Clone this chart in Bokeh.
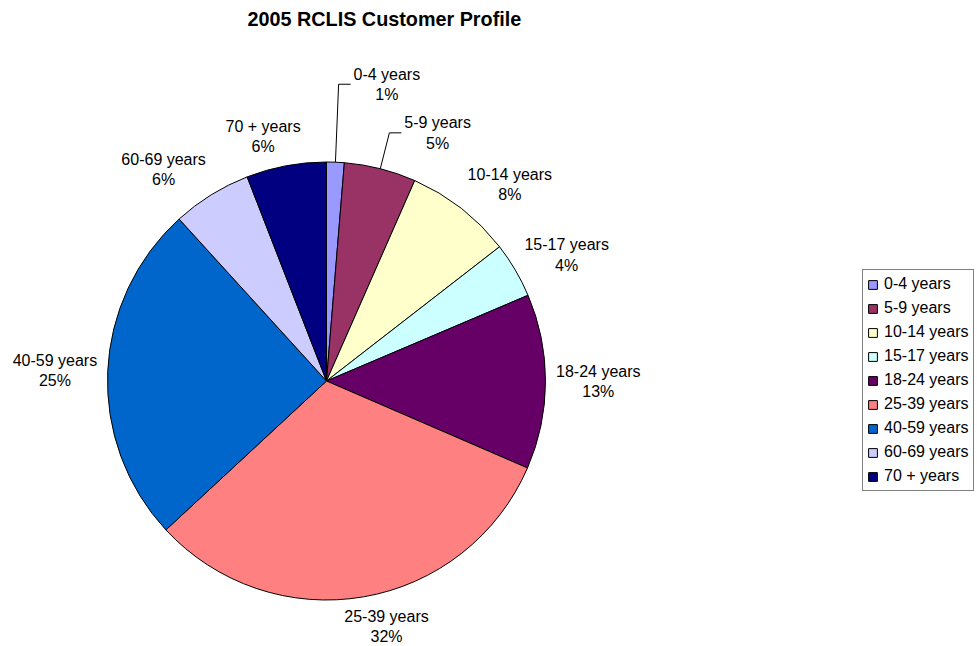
import numpy as np
from bokeh.plotting import figure
from bokeh.models import Range1d, Legend, LegendItem, ColumnDataSource
from bokeh.embed import file_html
from bokeh.resources import INLINE
from bokeh.core.properties import value

# ---------------- data ----------------
categories = ["0-4 years", "5-9 years", "10-14 years", "15-17 years", "18-24 years",
              "25-39 years", "40-59 years", "60-69 years", "70 + years"]
shares = [1.3, 5.3, 7.9, 4.1, 12.9, 31.6, 25.15, 5.85, 5.9]
colors = ["#9999FF", "#993366", "#FFFFCC", "#CCFFFF", "#660066",
          "#FF8080", "#0066CC", "#CCCCFF", "#000080"]
title_text = "2005 RCLIS Customer Profile"

# ---------------- layout / style ----------------
FONT = "Liberation Sans"
W, H = 977, 646
TITLE_H = 34
FH = H - TITLE_H
CX = 326                     # pie centre, px from frame left
CY = 380.5 - TITLE_H         # pie centre, px from frame top
R = 219
GAP = 11
HH = 19                      # half label block height
CHAR_W = 7.6
LEADER = {"0-4 years": 78, "5-9 years": 37}   # labels pulled out with leader lines

vals = np.array(shares, dtype=float)
frac = vals / vals.sum()
cum_end = np.cumsum(frac)
cum_start = cum_end - frac
start = np.pi / 2 - 2 * np.pi * cum_start
end = np.pi / 2 - 2 * np.pi * cum_end
mid = 2 * np.pi * (cum_start + cum_end) / 2   # clockwise from top
pct_txt = [f"{int(round(f * 100))}%" for f in frac]

p = figure(frame_width=W, frame_height=FH, output_backend="svg", toolbar_location=None,
           x_range=Range1d(-CX, W - CX), y_range=Range1d(-(FH - CY), CY),
           x_axis_location=None, y_axis_location=None, min_border=0)
p.grid.visible = False
p.outline_line_color = None
p.background_fill_color = "white"

p.title.text = title_text
p.title.text_font = FONT
p.title.text_font_size = "19.8px"
p.title.text_font_style = "bold"
p.title.text_color = "black"
p.title.align = "left"
p.title.offset = 247

src = ColumnDataSource(dict(start=start, end=end, color=colors, cat=categories))
wr = p.wedge(x=0, y=0, radius=R, start_angle="start", end_angle="end", direction="clock",
             fill_color="color", line_color="black", line_width=1, source=src)

# labels
cx_, cy_, ct_ = [], [], []
lead_xs, lead_ys = [], []
for i, cat in enumerate(categories):
    s, c = np.sin(mid[i]), np.cos(mid[i])
    hw = 0.5 * CHAR_W * len(cat)
    txt = cat + "\n" + pct_txt[i]
    if cat in LEADER:
        L = LEADER[cat]
        rx, ry = R * s, R * c
        ex, ey = (R + L) * s, (R + L) * c
        hx = ex + 12
        lead_xs.append([rx, ex, hx])
        lead_ys.append([ry, ey, ey])
        cx_.append(hx + 2 + hw)
        cy_.append(ey)
    else:
        cx_.append((R + GAP) * s + hw * float(np.clip(3 * s, -1, 1)))
        cy_.append((R + GAP) * c + HH * c)
    ct_.append(txt)

p.multi_line(xs=lead_xs, ys=lead_ys, line_color="black", line_width=1)
p.text(x=cx_, y=cy_, text=ct_, text_font=value(FONT), text_font_size="16px",
       text_align="center", text_baseline="middle", text_line_height=1.2, text_color="black")

items = [LegendItem(label=cat, renderers=[wr], index=i) for i, cat in enumerate(categories)]
legend = Legend(items=items, location=(862, FH + TITLE_H - 491), border_line_color="black",
                border_line_width=1, background_fill_color="white", background_fill_alpha=1,
                label_text_font=FONT, label_text_font_size="16px", label_text_color="black",
                glyph_width=11, glyph_height=11, label_height=20, spacing=4,
                padding=4, margin=0, label_standoff=6)
p.add_layout(legend)

open("out.html", "w").write(file_html(p, INLINE))
